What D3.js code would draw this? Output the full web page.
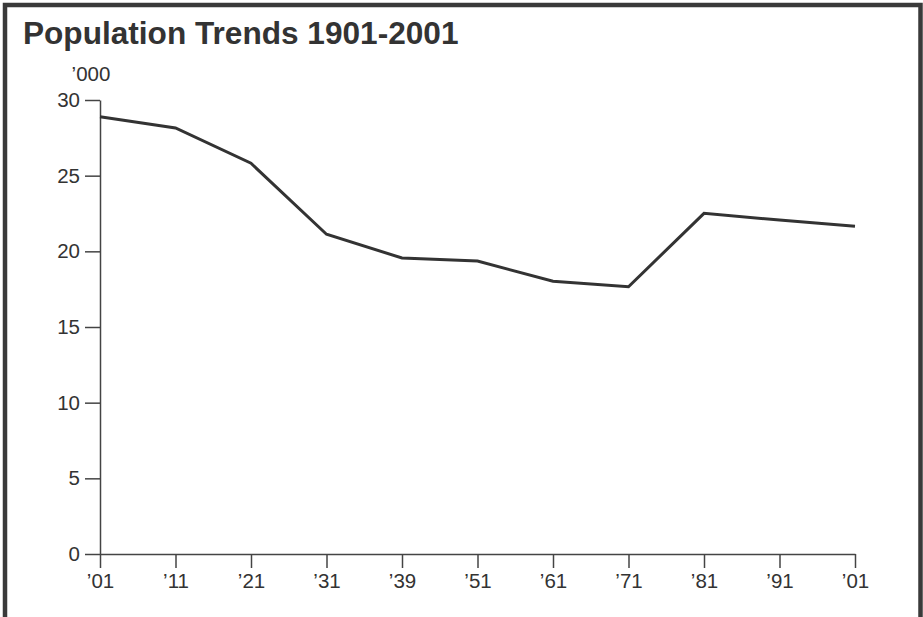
<!DOCTYPE html>
<meta charset="utf-8">
<head>
  <title>Population Trends 1901-2001</title>
</head>
<style>
    body {
        margin: 0;
        background-color: #fff;
    }

    #chart {
        display: block;
    }

    .frame {
        fill: none;
        stroke: #3a3a3a;
        stroke-width: 4.5px;
    }

    .title {
        font-family: "Liberation Sans", Arial, sans-serif;
        font-weight: bold;
        font-size: 31.6px;
        fill: #333;
    }

    .axis text, .unit {
        font-family: "Liberation Sans", Arial, sans-serif;
        font-size: 20.5px;
        fill: #333;
    }

    .axis path, .axis line {
        stroke: #444;
        stroke-width: 1.5px;
    }

    path.trend {
        fill: none;
        stroke: #333;
        stroke-width: 3px;
        stroke-linejoin: miter;
    }
</style>
<body>
    <svg id="chart" width="923" height="617"></svg>

    <script src="https://cdn.jsdelivr.net/npm/d3@7"></script>

    <script>
        var width = 923,
            height = 617;

        // census years, in thousands of people
        var years = ["'01", "'11", "'21", "'31", "'39", "'51", "'61", "'71", "'81", "'91", "'01b"];
        var yearLabels = ["\u201901", "\u201911", "\u201921", "\u201931", "\u201939", "\u201951", "\u201961", "\u201971", "\u201981", "\u201991", "\u201901"];
        var population = [28.9, 28.15, 25.82, 21.13, 19.56, 19.36, 18.02, 17.66, 22.51, 22.07, 21.65];
        var yTicks = [0, 5, 10, 15, 20, 25, 30];

        var margin = {top: 100, left: 100, right: 68, bottom: 63};

        var svg = d3.select("#chart");

        // frame: top, left and right edges only
        svg.append("path")
            .attr("class", "frame")
            .attr("d", "M5," + height + "V5H920.5V" + height);

        svg.append("text")
            .attr("class", "title")
            .attr("x", 23)
            .attr("y", 44)
            .text("Population Trends 1901-2001");

        var x = d3.scalePoint()
            .domain(years)
            .range([margin.left, width - margin.right]);

        var y = d3.scaleLinear()
            .domain([0, 30])
            .range([height - margin.bottom, margin.top]);

        var xAxis = d3.axisBottom(x)
            .tickSize(14)
            .tickSizeOuter(0)
            .tickPadding(5)
            .tickFormat(function(d, i) { return yearLabels[i]; });

        var yAxis = d3.axisLeft(y)
            .tickValues(yTicks)
            .tickSize(15)
            .tickSizeOuter(0)
            .tickPadding(5);

        var gy = svg.append("g")
            .attr("class", "axis")
            .attr("transform", "translate(" + margin.left + ",0)")
            .call(yAxis);

        var gx = svg.append("g")
            .attr("class", "axis")
            .attr("transform", "translate(0," + y(0) + ")")
            .call(xAxis);

        gx.selectAll("text").attr("dy", "0.71em");

        svg.append("text")
            .attr("class", "unit")
            .attr("x", 91)
            .attr("y", 81)
            .attr("text-anchor", "middle")
            .text("\u2019000");

        var line = d3.line()
            .x(function(d, i) { return x(years[i]); })
            .y(function(d) { return y(d); });

        svg.append("path")
            .datum(population)
            .attr("class", "trend")
            .attr("d", line);
    </script>
</body>
